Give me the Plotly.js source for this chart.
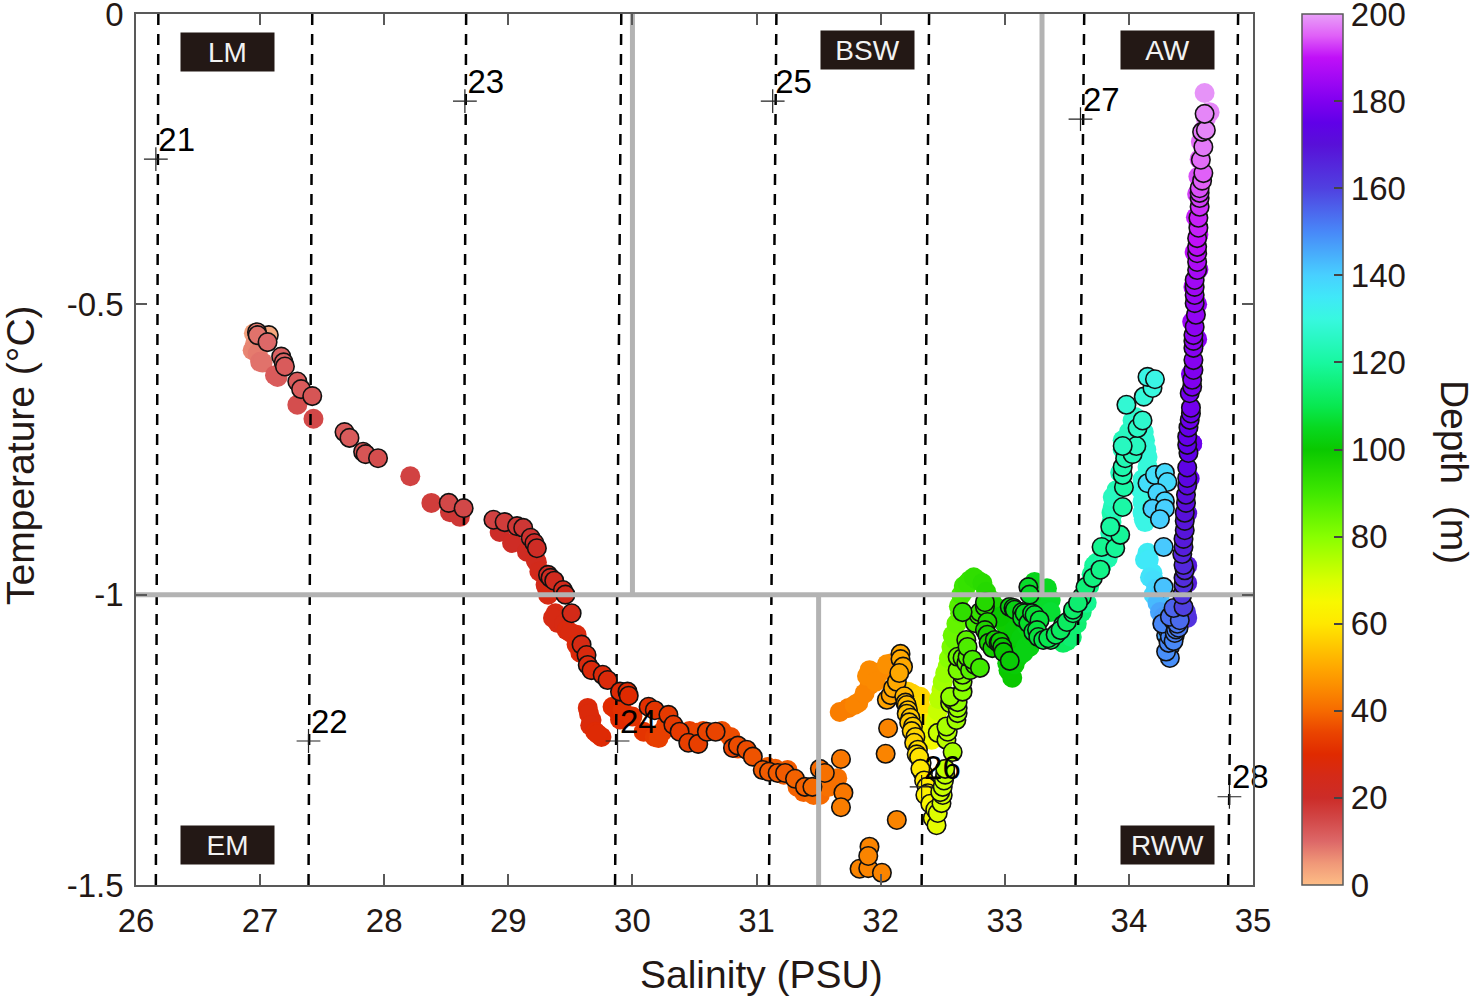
<!DOCTYPE html>
<html>
<head>
<meta charset="utf-8">
<script src="https://cdn.plot.ly/plotly-3.0.1.min.js"></script>
<style>html,body{margin:0;padding:0;background:#fff}</style>
</head>
<body>
<div id="chart" style="width:1476px;height:996px"></div>
<script>
  "use strict";
  const FONT = "Liberation Sans, Arial, sans-serif";
  const TEXT = "#231815";

  // Stations: cross position and label
  const stationNames = ["21", "22", "23", "24", "25", "26", "27", "28"];
  const stationSal = [26.16, 27.39, 28.65, 29.88, 31.13, 32.33, 33.61, 34.81];
  const stationTemp = [-0.25, -1.252, -0.15, -1.252, -0.15, -1.331, -0.181, -1.348];
  const stationLabelSal = [26.18, 27.41, 28.67, 29.90, 31.15, 32.35, 33.63, 34.83];
  // Dashed station lines lean slightly between the top and the bottom of the frame
  const dashTopSal = [26.18, 27.42, 28.66, 29.91, 31.16, 32.39, 33.64, 34.88];
  const dashBottomSal = [26.16, 27.39, 28.63, 29.86, 31.10, 32.33, 33.57, 34.80];

  // Water mass boundaries (gaps split the segments)
  const boundarySal = [26, 35, null, 30, 30, null, 33.3, 33.3, null, 31.5, 31.5];
  const boundaryTemp = [-1, -1, null, 0, -1, null, 0, -1, null, -1, -1.5];

  const regionNames = ["LM", "BSW", "AW", "EM", "RWW"];
  const regionSal = [26.74, 31.89, 34.31, 26.74, 34.31];
  const regionTemp = [-0.065, -0.062, -0.062, -1.431, -1.431];

  const depthTicks = [0, 20, 40, 60, 80, 100, 120, 140, 160, 180, 200];
  const depthStops = [0, 5, 10, 15, 20, 25, 30, 35, 40, 45, 50, 55, 60, 65, 70, 75, 80, 90, 100, 105, 110, 115, 120, 125, 130, 135, 140, 150, 160, 170, 175, 180, 190, 195, 200];
  const depthColors = ["#fdbd86", "#f09878", "#dd6868", "#d24848", "#cc2c28", "#d42a18", "#e02a00", "#ea4400", "#f66a00", "#fb8a00", "#ffa800", "#ffc800", "#ffe800", "#f8f800", "#d8ff00", "#b0ff00", "#88ff00", "#40e800", "#0ac800", "#08d820", "#08e850", "#10f078", "#18f8a0", "#28f8c0", "#38f8e0", "#40e8f8", "#48d0ff", "#4888f8", "#5040e0", "#5810d8", "#6000e8", "#8000f0", "#c010f8", "#e060f8", "#e8a0f8"];

  // First cast: markers without outline
  const plainSal = [
    26.96, 26.94, 27.0, 27.12, 27.30, 27.43, 28.21, 28.38, 28.53, 28.61,
    28.93, 29.03, 29.15, 29.22, 29.23, 29.30, 29.31, 29.32, 29.38, 29.40,
    29.47, 29.55, 29.55, 29.64, 29.67, 29.70, 29.75, 29.84, 29.92, 30.09,
    30.21, 30.24, 30.52, 30.79, 31.09, 31.25, 31.33, 31.46, 31.51, 31.58,
    31.65, 31.67, 31.74, 31.82, 31.91, 31.91, 32.0, 32.09, 32.22, 32.32,
    32.32, 32.37, 32.41, 32.45, 32.49, 32.54, 32.60, 32.64, 32.68, 32.72,
    32.78, 32.82, 32.89, 32.96, 33.06, 33.02, 33.11, 33.20, 33.08, 33.24,
    33.34, 33.37, 33.31, 33.47, 33.54, 33.66, 33.74, 33.83, 33.85, 33.87,
    33.87, 33.86, 33.95, 34.05, 34.13, 34.15, 34.11, 34.11, 34.15, 34.19,
    34.23, 34.28, 34.47, 34.47, 34.51, 34.50, 34.51, 34.52, 34.53, 34.54,
    34.55, 34.56, 34.57, 34.58, 34.60, 34.62, 34.65, 34.61,
    // dense patches
    26.95, 26.98, 27.02, 27.14, 29.25, 29.36, 29.45, 29.50, 29.58, 29.65,
    29.66, 29.72, 29.88, 29.90, 30.0, 30.18, 30.27, 30.46, 30.57, 30.72,
    30.85, 31.15, 31.22, 31.38, 31.60, 31.79, 31.87, 31.89, 31.96, 32.05,
    32.25, 32.28, 32.33, 32.36, 32.42, 32.44, 32.46, 32.47, 32.50, 32.52,
    32.55, 32.57, 32.58, 32.61, 32.63, 32.65, 32.67, 32.70, 32.75, 32.85,
    32.92, 33.0, 33.03, 33.05, 33.03, 33.08, 33.10, 33.13, 33.17, 33.15,
    33.22, 33.18, 33.28, 33.32, 33.30, 33.37, 33.42, 33.50, 33.53, 33.58,
    33.62, 33.64, 33.68, 33.70, 33.72, 33.78, 33.80, 33.84, 33.86, 33.86,
    33.87, 33.88, 33.90, 33.93, 33.95, 34.0, 34.03, 34.08, 34.12, 34.14,
    34.15, 34.12, 34.10, 34.11, 34.13, 34.12, 34.13, 34.16, 34.17, 34.20,
    34.20, 34.22, 34.25, 34.25, 34.27, 34.46, 34.47, 34.47, 34.49, 34.51,
    34.55, 34.55, 34.56, 34.56
  ];
  const plainTemp = [
    -0.567, -0.579, -0.599, -0.622, -0.673, -0.697, -0.796, -0.842, -0.858, -0.866,
    -0.892, -0.911, -0.926, -0.94, -0.944, -0.983, -0.988, -1.0, -1.032, -1.049,
    -1.061, -1.069, -1.086, -1.195, -1.216, -1.236, -1.245, -1.193, -1.199, -1.236,
    -1.247, -1.236, -1.238, -1.245, -1.297, -1.302, -1.331, -1.345, -1.345, -1.331,
    -1.316, -1.202, -1.195, -1.186, -1.156, -1.13, -1.133, -1.118, -1.167, -1.176,
    -1.193, -1.221, -1.25, -1.216, -1.164, -1.124, -1.078, -1.032, -0.992, -0.975,
    -0.975, -0.98, -1.009, -1.038, -1.143, -1.118, -1.107, -1.09, -1.061, -0.978,
    -0.989, -1.009, -1.026, -1.083, -1.073, -1.014, -0.945, -0.937, -0.894, -0.849,
    -0.832, -0.859, -0.734, -0.694, -0.734, -0.763, -0.802, -0.859, -0.928, -0.963,
    -1.014, -1.038, -1.04, -0.86, -0.74, -0.62, -0.53, -0.47, -0.41, -0.35,
    -0.31, -0.28, -0.25, -0.22, -0.20, -0.18, -0.169, -0.136,
    // dense patches
    -0.55, -0.585, -0.60, -0.625, -0.96, -1.04, -1.05, -1.065, -1.10, -1.205,
    -1.225, -1.24, -1.20, -1.215, -1.21, -1.245, -1.225, -1.235, -1.235, -1.235,
    -1.265, -1.30, -1.31, -1.34, -1.32, -1.19, -1.17, -1.14, -1.15, -1.12,
    -1.17, -1.175, -1.21, -1.235, -1.235, -1.22, -1.20, -1.18, -1.15, -1.135,
    -1.11, -1.09, -1.07, -1.05, -1.02, -1.0, -0.985, -0.98, -0.97, -0.995,
    -1.02, -1.05, -1.08, -1.10, -1.13, -1.12, -1.09, -1.075, -1.09, -1.10,
    -1.075, -1.055, -1.0, -1.0, -1.015, -1.03, -1.075, -1.08, -1.07, -1.05,
    -1.03, -1.0, -0.985, -0.965, -0.95, -0.95, -0.94, -0.92, -0.905, -0.875,
    -0.86, -0.84, -0.82, -0.79, -0.75, -0.72, -0.70, -0.725, -0.72, -0.75,
    -0.78, -0.80, -0.82, -0.84, -0.875, -0.87, -0.94, -0.94, -0.97, -0.975,
    -1.0, -0.99, -1.0, -1.03, -1.05, -1.03, -0.98, -0.95, -0.80, -0.74,
    -0.56, -0.50, -0.44, -0.38
  ];
  const plainDepth = [
    6, 7, 9, 12, 14, 15, 16, 17, 18, 18,
    20, 21, 22, 23, 23, 24, 25, 26, 26, 26,
    27, 27, 28, 28, 28, 29, 29, 30, 31, 32,
    34, 34, 35, 36, 38, 38, 39, 40, 40, 41,
    41, 43, 43, 44, 44, 45, 45, 46, 56, 57,
    58, 62, 66, 70, 74, 78, 84, 86, 90, 92,
    93, 94, 96, 100, 100, 101, 102, 103, 101, 104,
    105, 106, 106, 112, 114, 118, 120, 122, 123, 124,
    125, 122, 124, 127, 128, 129, 128, 131, 134, 135,
    143, 147, 163, 170, 176, 180, 184, 187, 189, 191,
    193, 194, 195, 196, 197, 198, 198, 199,
    // dense patches
    4, 8, 9, 12, 24, 26, 26, 27, 28, 28,
    28, 29, 30, 30, 31, 33, 34, 34, 35, 36,
    36, 38, 38, 39, 41, 44, 44, 45, 45, 46,
    56, 56, 58, 60, 67, 69, 72, 74, 77, 78,
    80, 82, 84, 85, 87, 89, 91, 92, 93, 95,
    97, 99, 100, 100, 100, 101, 101, 102, 103, 103,
    103, 103, 105, 105, 105, 107, 110, 112, 113, 114,
    115, 116, 117, 118, 119, 120, 121, 122, 122, 122,
    122, 122, 123, 124, 124, 125, 126, 127, 128, 129,
    129, 129, 130, 130, 131, 131, 134, 135, 136, 137,
    138, 139, 141, 146, 149, 162, 167, 168, 175, 177,
    181, 183, 186, 190
  ];

  // Second cast: outlined markers, drawn above the dashed lines
  const ringSal = [
    27.07, 26.975, 26.98, 27.06, 27.17, 27.19, 27.20, 27.30, 27.33, 27.42,
    27.68, 27.72, 27.83, 27.85, 27.95, 28.52, 28.64, 28.88, 28.97, 29.07,
    29.12, 29.18, 29.21, 29.23, 29.32, 29.34, 29.37, 29.44, 29.46, 29.51,
    29.59, 29.63, 29.64, 29.67, 29.76, 29.80, 29.90, 29.96, 29.97, 30.13,
    30.18, 30.29, 30.33, 30.38, 30.45, 30.53, 30.60, 30.67, 30.81, 30.85,
    30.92, 30.97, 31.05, 31.10, 31.17, 31.23, 31.31, 31.39, 31.45, 31.51,
    31.55, 31.68, 31.70, 31.68, 32.06, 32.04, 32.13, 31.91, 31.83, 31.90,
    32.01, 31.90, 32.16, 32.16, 32.18, 32.05, 32.08, 32.10, 32.13, 32.15,
    32.20, 32.22, 32.24, 32.26, 32.28, 32.30, 32.33, 32.34, 32.37, 32.38,
    32.45, 32.46, 32.49, 32.50, 32.50, 32.52, 32.53, 32.54, 32.58, 32.61,
    32.62, 32.62, 32.56, 32.66, 32.66, 32.66, 32.70, 32.74, 32.80, 32.66,
    32.84, 32.86, 32.86, 32.90, 32.95, 32.98, 33.04, 33.04, 33.07, 33.14,
    33.14, 33.19, 33.20, 33.22, 33.28, 33.23, 33.31, 33.37, 33.42, 33.47,
    33.55, 33.62, 33.65, 33.71, 33.77, 33.78, 33.89, 33.93, 33.85, 33.95,
    33.96, 33.95, 33.95, 33.97, 34.03, 34.06, 33.95, 34.07, 34.11, 33.98,
    34.12, 34.19, 34.15, 34.21, 34.15, 34.21, 34.29, 34.31, 34.23, 34.29,
    34.19, 34.29, 34.25, 34.28, 34.28, 34.33, 34.30, 34.32, 34.33, 34.37,
    34.40, 34.27, 34.33, 34.41, 34.36,
    // tight stretches of the chain
    32.19, 32.21, 32.21, 32.23, 32.25, 32.27, 32.29, 32.31, 32.32, 32.35,
    32.36, 32.40, 32.42, 32.44, 32.48, 32.51, 32.52, 32.46, 32.53, 32.62,
    32.56, 32.58, 32.66, 32.62, 32.62, 32.69, 32.72, 32.76, 32.70, 32.69,
    32.76, 32.80, 32.84, 32.79, 32.84, 32.87, 32.92, 32.96, 32.99, 33.08,
    33.16, 33.19, 33.24, 33.26, 33.27, 33.35, 33.41, 33.45, 33.50, 33.55,
    33.59,
    // blue knot at the foot of the column
    34.38, 34.36, 34.39, 34.35, 34.38, 34.34, 34.37, 34.35, 34.36, 34.33,
    34.31, 34.30,
    // purple column
    34.44, 34.43, 34.44, 34.44, 34.45, 34.44, 34.43, 34.44, 34.44, 34.45,
    34.45, 34.45, 34.46, 34.46, 34.47, 34.47, 34.47, 34.48, 34.47, 34.47,
    34.48, 34.49, 34.50, 34.50, 34.49, 34.51, 34.51, 34.52, 34.52, 34.52,
    34.52, 34.52, 34.53, 34.54, 34.53, 34.53, 34.53, 34.53, 34.55, 34.55,
    34.55, 34.55, 34.55, 34.56, 34.56, 34.57, 34.57, 34.57, 34.57, 34.59,
    34.60, 34.58, 34.60, 34.59, 34.62, 34.61
  ];
  const ringTemp = [
    -0.553, -0.548, -0.553, -0.565, -0.59, -0.60, -0.607, -0.633, -0.646, -0.658,
    -0.72, -0.73, -0.754, -0.758, -0.765, -0.842, -0.851, -0.871, -0.875, -0.882,
    -0.885, -0.902, -0.911, -0.92, -0.966, -0.971, -0.976, -0.992, -1.0, -1.032,
    -1.086, -1.104, -1.121, -1.13, -1.138, -1.147, -1.167, -1.167, -1.174, -1.193,
    -1.199, -1.207, -1.224, -1.236, -1.255, -1.257, -1.236, -1.236, -1.264, -1.26,
    -1.267, -1.279, -1.302, -1.305, -1.307, -1.307, -1.317, -1.331, -1.331, -1.30,
    -1.307, -1.283, -1.341, -1.366, -1.23, -1.274, -1.388, -1.434, -1.472, -1.471,
    -1.479, -1.45, -1.102, -1.111, -1.124, -1.181, -1.173, -1.161, -1.15, -1.135,
    -1.186, -1.199, -1.212, -1.227, -1.245, -1.267, -1.29, -1.307, -1.331, -1.342,
    -1.397, -1.376, -1.359, -1.345, -1.331, -1.31, -1.25, -1.236, -1.271, -1.216,
    -1.204, -1.185, -1.176, -1.167, -1.138, -1.109, -1.09, -1.112, -1.126, -1.03,
    -1.013, -1.047, -1.069, -1.092, -1.083, -1.09, -1.114, -1.021, -1.023, -1.03,
    -1.04, -0.987, -1.0, -1.032, -1.044, -1.064, -1.078, -1.078, -1.066, -1.052,
    -1.032, -1.004, -0.987, -0.971, -0.957, -0.918, -0.92, -0.897, -0.883, -0.849,
    -0.815, -0.794, -0.78, -0.765, -0.758, -0.744, -0.744, -0.713, -0.70, -0.673,
    -0.659, -0.644, -0.625, -0.629, -0.808, -0.794, -0.79, -0.806, -0.825, -0.839,
    -0.852, -0.852, -0.87, -0.918, -0.987, -1.109, -1.098, -1.083, -1.072, -1.066,
    -1.057, -1.05, -1.038, -1.044, -1.023,
    // tight stretches of the chain
    -1.175, -1.19, -1.205, -1.22, -1.235, -1.255, -1.275, -1.28, -1.30, -1.32,
    -1.345, -1.36, -1.385, -1.37, -1.34, -1.32, -1.30, -1.238, -1.227, -1.195,
    -1.187, -1.181, -1.15, -1.13, -1.107, -1.118, -1.13, -1.121, -1.107, -1.078,
    -1.049, -1.03, -1.021, -1.035, -1.061, -1.083, -1.078, -1.081, -1.099, -1.026,
    -1.032, -1.049, -1.035, -1.061, -1.073, -1.075, -1.069, -1.061, -1.047, -1.026,
    -1.014,
    // blue knot at the foot of the column
    -1.035, -1.045, -1.05, -1.055, -1.06, -1.065, -1.07, -1.075, -1.08, -1.09,
    -1.06, -1.07,
    // purple column
    -1.021, -1.0, -0.983, -0.971, -0.958, -0.949, -0.93, -0.918, -0.904, -0.889,
    -0.873, -0.859, -0.842, -0.828, -0.812, -0.799, -0.781, -0.756, -0.742, -0.728,
    -0.712, -0.699, -0.688, -0.678, -0.653, -0.642, -0.63, -0.613, -0.596, -0.575,
    -0.563, -0.553, -0.539, -0.518, -0.498, -0.484, -0.47, -0.458, -0.441, -0.427,
    -0.412, -0.401, -0.386, -0.368, -0.351, -0.332, -0.317, -0.308, -0.30, -0.287,
    -0.274, -0.251, -0.229, -0.203, -0.20, -0.172
  ];
  const ringDepth = [
    3, 8, 9, 10, 11, 11, 12, 12, 12, 13,
    12, 12, 13, 13, 14, 15, 15, 16, 17, 18,
    18, 19, 20, 21, 22, 22, 23, 24, 24, 25,
    26, 27, 27, 28, 28, 28, 29, 30, 30, 31,
    32, 33, 33, 33, 34, 34, 35, 35, 35, 36,
    36, 37, 38, 38, 38, 38, 39, 39, 40, 40,
    41, 42, 42, 43, 44, 44, 44, 44, 44, 44,
    44, 44, 50, 50, 50, 49, 49, 50, 50, 50,
    53, 54, 55, 56, 57, 58, 59, 60, 61, 62,
    68, 69, 70, 71, 72, 73, 74, 75, 76, 77,
    78, 79, 79, 80, 82, 85, 88, 89, 90, 93,
    95, 96, 97, 98, 99, 100, 101, 102, 103, 104,
    105, 106, 106, 107, 108, 108, 109, 110, 111, 112,
    113, 114, 115, 116, 117, 118, 119, 119, 120, 121,
    121, 122, 122, 123, 124, 125, 125, 126, 127, 128,
    129, 130, 131, 131, 137, 137, 138, 138, 139, 139,
    140, 140, 140, 141, 142, 149, 149, 150, 150, 151,
    152, 150, 153, 154, 155,
    // tight stretches of the chain
    52, 53, 54, 55, 56, 57, 58, 59, 60, 60,
    62, 64, 66, 68, 71, 72, 73, 72, 76, 78,
    77, 78, 81, 82, 84, 86, 87, 88, 87, 86,
    90, 92, 94, 91, 96, 97, 98, 99, 100, 103,
    105, 106, 107, 108, 108, 110, 111, 112, 112, 113,
    114,
    // blue knot at the foot of the column
    151, 150, 152, 149, 151, 149, 150, 149, 150, 148,
    147, 146,
    // purple column
    160, 162, 163, 164, 165, 165, 166, 167, 168, 169,
    169, 170, 171, 171, 172, 173, 174, 175, 175, 176,
    176, 177, 177, 178, 178, 179, 180, 180, 181, 181,
    182, 182, 182, 183, 183, 184, 185, 185, 186, 187,
    188, 189, 190, 191, 191, 192, 193, 193, 194, 195,
    195, 196, 197, 197, 198, 198
  ];

  // Deeper samples go on top
  function byDepth(sal, temp, depth) {
    const order = depth.map((_, i) => i).sort((a, b) => depth[a] - depth[b]);
    return {
      x: order.map((i) => sal[i]),
      y: order.map((i) => temp[i]),
      color: order.map((i) => depth[i]),
    };
  }
  const plain = byDepth(plainSal, plainTemp, plainDepth);
  const ring = byDepth(ringSal, ringTemp, ringDepth);

  const dashed = stationNames.map((name, i) => ({
    type: "scatter", mode: "lines",
    x: [dashTopSal[i], dashBottomSal[i]], y: [0, -1.5],
    line: { color: "#000", width: 2.5, dash: "11px,9px" },
    hoverinfo: "skip",
  }));

  const traces = [
    {
      type: "scatter", mode: "markers", x: plain.x, y: plain.y,
      marker: { size: 20, color: plain.color, coloraxis: "coloraxis", line: { width: 0 } },
    },
    ...dashed,
    {
      type: "scatter", mode: "markers", x: ring.x, y: ring.y,
      marker: { size: 18.5, color: ring.color, coloraxis: "coloraxis", line: { width: 1.6, color: "#111" } },
    },
    {
      type: "scatter", mode: "lines", x: boundarySal, y: boundaryTemp,
      line: { color: "#b3b3b3", width: 5 }, connectgaps: false, hoverinfo: "skip",
    },
    {
      type: "scatter", mode: "markers", x: stationSal, y: stationTemp,
      marker: { symbol: "cross-thin", size: 17, line: { width: 1.2, color: "#222" } },
      hoverinfo: "skip",
    },
    {
      type: "scatter", mode: "text", x: stationLabelSal, y: stationTemp,
      text: stationNames, textposition: "top right", cliponaxis: false,
      textfont: { family: FONT, size: 33, color: "#000" },
      hoverinfo: "skip",
    },
  ];

  const annotations = regionNames.map((name, i) => ({
    x: regionSal[i], y: regionTemp[i], xref: "x", yref: "y", text: name,
    showarrow: false, width: 91, height: 36, bgcolor: "#231815",
    font: { family: FONT, size: 28, color: "#f2f2f2" },
  }));

  // Axis titles sit off-centre in the figure, so they are placed by hand
  const titleFont = { family: FONT, size: 39, color: TEXT };
  const titleBase = { xref: "paper", yref: "paper", xanchor: "center", yanchor: "middle", showarrow: false, font: titleFont };
  annotations.push(
    Object.assign({}, titleBase, { x: 0.5604, y: -0.1022, text: "Salinity (PSU)" }),
    Object.assign({}, titleBase, { x: -0.1030, y: 0.4937, text: "Temperature (°C)", textangle: -90 }),
    Object.assign({}, titleBase, { x: 1.1800, y: 0.4742, text: "Depth  (m)", textangle: 90 }),
  );

  const axis = {
    showgrid: false, zeroline: false, showline: true, mirror: "ticks",
    linecolor: "#595959", linewidth: 1.5, ticks: "inside", ticklen: 11,
    tickcolor: "#595959", tickwidth: 1.5,
    tickfont: { family: FONT, size: 33, color: TEXT },
  };

  const layout = {
    width: 1476, height: 996, showlegend: false,
    margin: { l: 136, r: 223, t: 14, b: 111 },
    paper_bgcolor: "#fff", plot_bgcolor: "#fff",
    font: { family: FONT, color: TEXT },
    xaxis: Object.assign({}, axis, {
      range: [26, 35], tickmode: "array", tickvals: [26, 27, 28, 29, 30, 31, 32, 33, 34, 35],
      ticklabelstandoff: 6,
    }),
    yaxis: Object.assign({}, axis, {
      range: [-1.5, 0], tickmode: "array", tickvals: [0, -0.5, -1, -1.5],
      ticktext: ["0", "-0.5", "-1", "-1.5"],
      ticklabelstandoff: 4, ticklabeloverflow: "allow",
    }),
    coloraxis: {
      cmin: 0, cmax: 200,
      colorscale: depthStops.map((d, i) => [d / 200, depthColors[i]]),
      colorbar: {
        x: 1.0439, xanchor: "left", xref: "paper", xpad: 0, ypad: 0,
        y: 0, yanchor: "bottom", len: 1, lenmode: "fraction",
        thickness: 41, thicknessmode: "pixels",
        outlinecolor: "#595959", outlinewidth: 1.5,
        tickmode: "array", tickvals: depthTicks, ticks: "inside", ticklen: 9,
        tickcolor: "#444", tickwidth: 1.5, ticklabeloverflow: "allow",
        tickfont: { family: FONT, size: 33, color: TEXT },
      },
    },
    annotations,
  };

  Plotly.newPlot("chart", traces, layout, { displayModeBar: false, responsive: false });
</script>
</body>
</html>
